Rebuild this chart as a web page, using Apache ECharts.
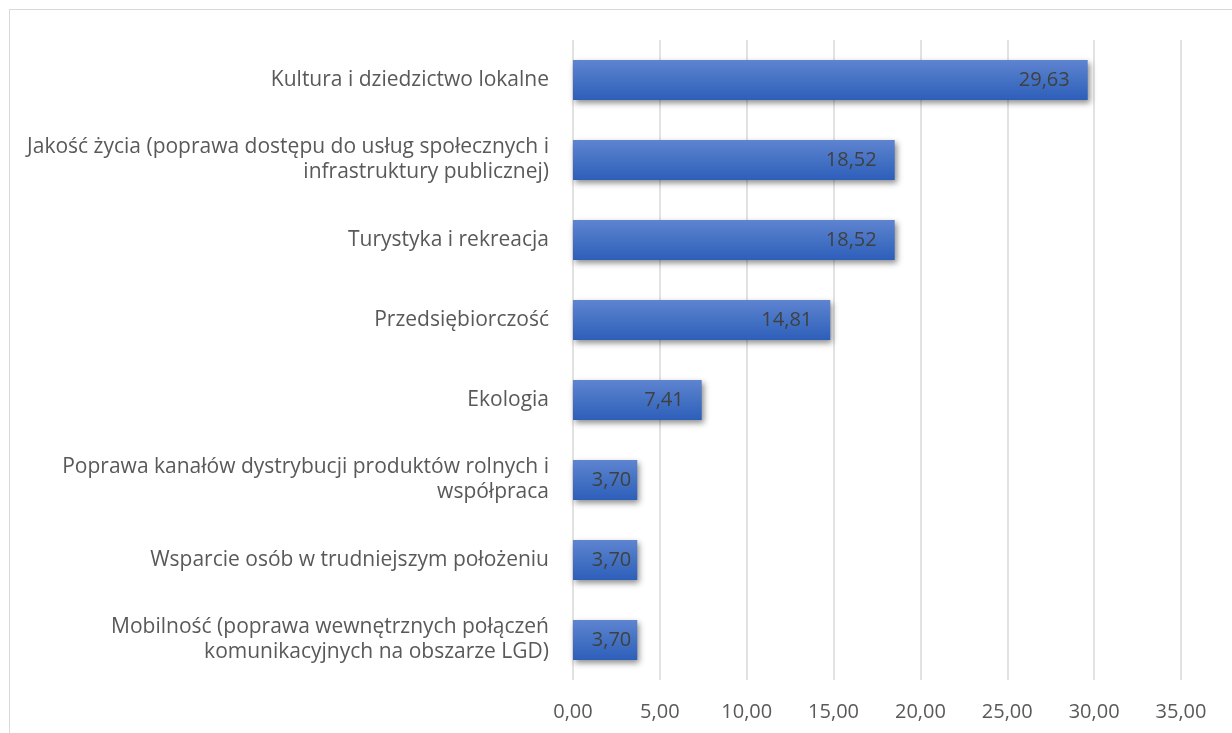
<!DOCTYPE html>
<html>
<head>
<meta charset="utf-8">
<script src="https://cdn.jsdelivr.net/npm/echarts@6/dist/echarts.min.js"></script>
<style>
  html, body { margin: 0; padding: 0; background: #fff; }
  #frame { position: absolute; left: 9px; top: 9px; width: 1240px; height: 740px; border: 1.5px solid #d9d9d9; box-sizing: border-box; }
  #chart { position: absolute; left: 0; top: 0; width: 1232px; height: 733px; }
</style>
</head>
<body>
<div id="frame"></div>
<div id="chart"></div>
<script>
// kategorie (od góry)
const categories = [
  'Kultura i dziedzictwo lokalne',
  'Jakość życia (poprawa dostępu do usług społecznych i\ninfrastruktury publicznej)',
  'Turystyka i rekreacja',
  'Przedsiębiorczość',
  'Ekologia',
  'Poprawa kanałów dystrybucji produktów rolnych i\nwspółpraca',
  'Wsparcie osób w trudniejszym położeniu',
  'Mobilność (poprawa wewnętrznych połączeń\nkomunikacyjnych na obszarze LGD)'
];
const values = [29.63, 18.52, 18.52, 14.81, 7.41, 3.70, 3.70, 3.70];
const xTicks = [0, 5, 10, 15, 20, 25, 30, 35];

const fmt = v => v.toFixed(2).replace('.', ',');
const font = 'Open Sans, sans-serif';

const myChart = echarts.init(document.getElementById('chart'), null, { renderer: 'canvas' });

const option = {
  animation: false,
  grid: { left: 573, right: 51, top: 40, bottom: 53 },
  xAxis: {
    type: 'value',
    min: xTicks[0],
    max: xTicks[xTicks.length - 1],
    interval: 5,
    axisLine: { show: false },
    axisTick: { show: false },
    splitLine: { lineStyle: { color: '#d9d9d9', width: 1.5 } },
    axisLabel: {
      color: '#595959', fontSize: 20, fontFamily: font, margin: 22,
      formatter: v => fmt(v)
    }
  },
  yAxis: {
    type: 'category',
    data: categories,
    inverse: true,
    axisLine: { show: false },
    axisTick: { show: false },
    axisLabel: {
      color: '#595959', fontSize: 21, fontFamily: font, margin: 24,
      lineHeight: 25, align: 'right'
    }
  },
  series: [{
    type: 'bar',
    // krótkie słupki: etykieta bliżej końca
    data: values.map(v => ({ value: v, label: { distance: v < 5 ? 6 : 18 } })),
    barWidth: '50%',
    itemStyle: {
      color: new echarts.graphic.LinearGradient(0, 0, 0, 1, [
        { offset: 0, color: '#5F84D0' },
        { offset: 0.5, color: '#4472C4' },
        { offset: 1, color: '#2D5EBA' }
      ]),
      shadowColor: 'rgba(0,0,0,0.45)',
      shadowBlur: 6,
      shadowOffsetX: 2,
      shadowOffsetY: 3
    },
    label: {
      show: true,
      position: 'insideRight',
      distance: 18,
      color: '#404040',
      fontSize: 20,
      fontFamily: font,
      formatter: p => fmt(p.value)
    }
  }]
};

myChart.setOption(option);
</script>
</body>
</html>
